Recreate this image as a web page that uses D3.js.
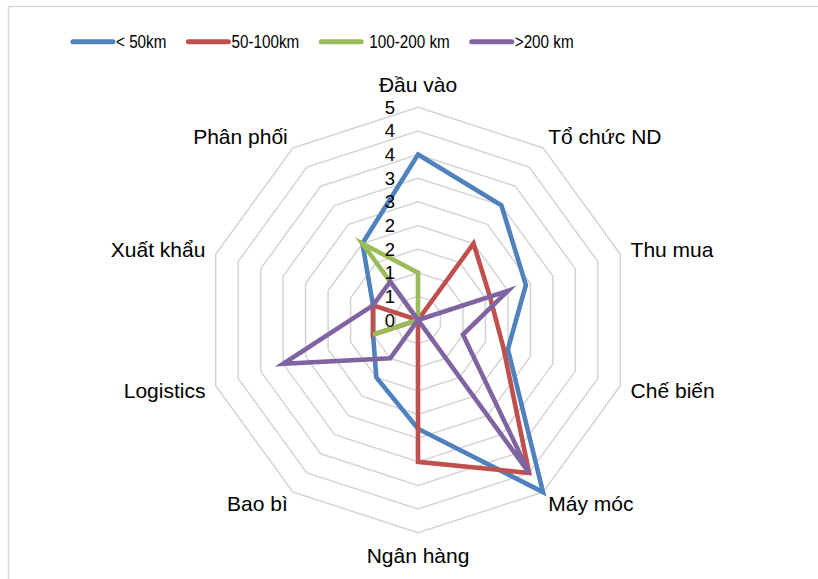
<!DOCTYPE html>
<html>
<head>
<meta charset="utf-8">
<script src="https://cdn.jsdelivr.net/npm/d3@7"></script>
<style>
  html, body { margin: 0; padding: 0; background: #fff; }
  svg { display: block; }
</style>
</head>
<body>
<svg id="chart" width="818" height="579"></svg>
<script>
// Radar axes, clockwise from the top
const categories = ["Đầu vào", "Tổ chức ND", "Thu mua", "Chế biến", "Máy móc",
                    "Ngân hàng", "Bao bì", "Logistics", "Xuất khẩu", "Phân phối"];

// Distance groups
const seriesNames = ["< 50km", "50-100km", "100-200 km", ">200 km"];
const seriesColors = ["#4F81BD", "#C0504D", "#9BBB59", "#8064A2"];

// Scores per axis for each distance group
const under50km   = [3.5, 3, 2.4, 2, 4.5, 2.3, 1.5, 1, 1, 2];
const km50to100   = [0, 2, 1.6, 1.9, 4, 3, 0, 1, 1, 0];
const km100to200  = [1, 0, 0, 0, 0, 0, 0, 1, 0, 2];
const over200km   = [0, 0, 2, 1, 4, 0, 1, 3, 1, 1];

// Radial axis ticks (labels shown rounded to whole numbers)
const tickValues = [0, 0.5, 1, 1.5, 2, 2.5, 3, 3.5, 4, 4.5];
const tickLabels = ["0", "1", "1", "2", "2", "3", "3", "4", "4", "5"];

const seriesValues = [under50km, km50to100, km100to200, over200km];

const svg = d3.select("#chart");
const cx = 418, cy = 320, R = 212.7;
const n = categories.length;
const r = d3.scaleLinear().domain([0, 4.5]).range([0, R]);
const angle = i => i * 2 * Math.PI / n;

// outer chart frame
svg.append("rect")
  .attr("x", 8.5).attr("y", 6.5)
  .attr("width", 1000).attr("height", 1000)
  .attr("fill", "none").attr("stroke", "#d9d9d9").attr("stroke-width", 1.5);

const g = svg.append("g").attr("transform", `translate(${cx},${cy})`);

// concentric decagon grid
const ringLine = d3.lineRadial()
  .angle((d, i) => angle(i))
  .radius(d => r(d))
  .curve(d3.curveLinearClosed);

g.append("g").selectAll("path")
  .data(tickValues.filter(v => v > 0))
  .join("path")
  .attr("d", v => ringLine(d3.range(n).map(() => v)))
  .attr("fill", "none")
  .attr("stroke", "#d4d4d4")
  .attr("stroke-width", 1.5);

// series polygons
const seriesLine = d3.lineRadial()
  .angle((d, i) => angle(i))
  .radius(d => r(d))
  .curve(d3.curveLinearClosed);

g.append("g").selectAll("path")
  .data(seriesValues)
  .join("path")
  .attr("d", d => seriesLine(d))
  .attr("fill", "none")
  .attr("stroke", (d, i) => seriesColors[i])
  .attr("stroke-width", 4.6)
  .attr("stroke-linejoin", "miter")
  .attr("stroke-miterlimit", 10);

// radial tick labels along the top axis
g.append("g").selectAll("text")
  .data(tickValues)
  .join("text")
  .attr("x", -23)
  .attr("y", v => -r(v))
  .attr("text-anchor", "end")
  .attr("dominant-baseline", "central")
  .attr("font-family", "Liberation Sans, Arial, sans-serif")
  .attr("font-size", 18.5)
  .attr("fill", "#000")
  .text((v, i) => tickLabels[i]);

// category labels outside the outer ring
g.append("g").selectAll("text")
  .data(categories)
  .join("text")
  .each(function (c, i) {
    const a = angle(i);
    const s = Math.sin(a), co = Math.cos(a);
    const vertical = Math.abs(s) < 0.1;
    const rr = R + (vertical ? 23 : 14);
    d3.select(this)
      .attr("x", rr * s + (vertical ? 0 : (s > 0 ? -3 : 3)))
      .attr("y", -rr * co)
      .attr("text-anchor", vertical ? "middle" : (s > 0 ? "start" : "end"));
  })
  .attr("dominant-baseline", "central")
  .attr("font-family", "Liberation Sans, Arial, sans-serif")
  .attr("font-size", 21)
  .attr("fill", "#000")
  .text(c => c);

// legend along the top, in a condensed face
const legend = svg.append("g").attr("transform", "translate(73,41.7)");
let lx = 0;
seriesNames.forEach((name, i) => {
  const item = legend.append("g").attr("transform", `translate(${lx},0)`);
  item.append("line")
    .attr("x1", 0).attr("x2", 40).attr("y1", 0).attr("y2", 0)
    .attr("stroke", seriesColors[i]).attr("stroke-width", 5)
    .attr("stroke-linecap", "round");
  const tx = i === 2 ? 48 : 43;
  const t = item.append("text")
    .attr("transform", `translate(${tx},0) scale(0.82,1)`)
    .attr("dominant-baseline", "central")
    .attr("font-family", "Liberation Sans, Arial, sans-serif")
    .attr("font-size", 18.6)
    .attr("fill", "#000")
    .text(name);
  const w = t.node().getComputedTextLength() * 0.82;
  lx += tx + w + 22;
});
</script>
</body>
</html>
